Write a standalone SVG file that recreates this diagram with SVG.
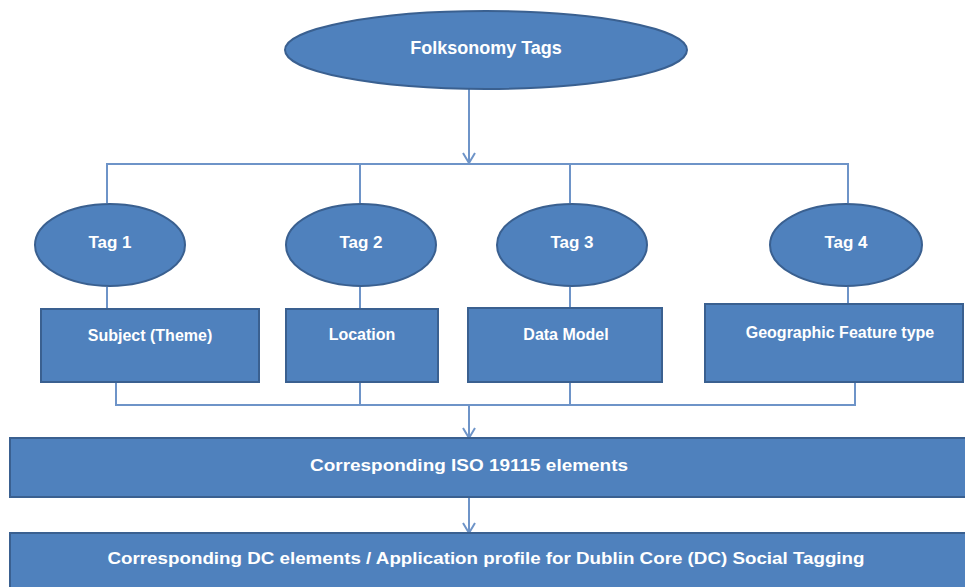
<svg xmlns="http://www.w3.org/2000/svg" width="965" height="587" viewBox="0 0 965 587">
<style>
.n{fill:#4F81BD;stroke:#3A6090;stroke-width:2}
.c{fill:none;stroke:#6E94C8;stroke-width:2}
.t{fill:#FFFFFF;font-family:"Liberation Sans",Arial,sans-serif;font-weight:bold;text-anchor:middle;dominant-baseline:central}
</style>
<defs>
<marker id="ah" markerWidth="14" markerHeight="14" refX="13" refY="7" orient="auto" markerUnits="userSpaceOnUse" viewBox="0 0 14 14">
<polyline points="3,1 13,7 3,13" fill="none" stroke="#6E94C8" stroke-width="2"/>
</marker>
</defs>
<rect width="965" height="587" fill="#FFFFFF"/>
<g id="connectors">
<line class="c" x1="469" y1="89" x2="469" y2="163" style="marker-end:url(#ah)"/>
<polyline class="c" points="107,203 107,164 848,164 848,203"/>
<line class="c" x1="360" y1="164" x2="360" y2="203"/>
<line class="c" x1="570" y1="164" x2="570" y2="203"/>
<line class="c" x1="107" y1="287" x2="107" y2="309"/>
<line class="c" x1="360" y1="287" x2="360" y2="309"/>
<line class="c" x1="570" y1="287" x2="570" y2="308"/>
<line class="c" x1="848" y1="287" x2="848" y2="304"/>
<polyline class="c" points="116,382 116,405 855,405 855,382"/>
<line class="c" x1="360" y1="382" x2="360" y2="405"/>
<line class="c" x1="570" y1="382" x2="570" y2="405"/>
<line class="c" x1="469" y1="405" x2="469" y2="438" style="marker-end:url(#ah)"/>
<line class="c" x1="469" y1="497" x2="469" y2="533" style="marker-end:url(#ah)"/>
</g>
<g id="folksonomy">
<ellipse class="n" cx="486" cy="50" rx="201" ry="39"/>
<text class="t" x="486" y="48" font-size="18">Folksonomy Tags</text>
</g>
<g id="tag1">
<ellipse class="n" cx="110" cy="245" rx="75" ry="41"/>
<text class="t" x="110" y="242" font-size="17">Tag 1</text>
</g>
<g id="tag2">
<ellipse class="n" cx="361" cy="245" rx="75" ry="41"/>
<text class="t" x="361" y="242" font-size="17">Tag 2</text>
</g>
<g id="tag3">
<ellipse class="n" cx="572" cy="245" rx="75" ry="41"/>
<text class="t" x="572" y="242" font-size="17">Tag 3</text>
</g>
<g id="tag4">
<ellipse class="n" cx="846" cy="245" rx="76" ry="41"/>
<text class="t" x="846" y="242" font-size="17">Tag 4</text>
</g>
<g id="subject">
<rect class="n" x="41" y="309" width="218" height="73"/>
<text class="t" x="150" y="335" font-size="16">Subject (Theme)</text>
</g>
<g id="location">
<rect class="n" x="286" y="309" width="152" height="73"/>
<text class="t" x="362" y="334" font-size="16">Location</text>
</g>
<g id="datamodel">
<rect class="n" x="468" y="308" width="194" height="74"/>
<text class="t" x="566" y="334" font-size="16">Data Model</text>
</g>
<g id="geofeature">
<rect class="n" x="705" y="304" width="258" height="78"/>
<text class="t" x="840" y="332" font-size="16">Geographic Feature type</text>
</g>
<g id="iso">
<rect class="n" x="10" y="438" width="960" height="59"/>
<text class="t" x="469" y="465" font-size="17" textLength="318" lengthAdjust="spacingAndGlyphs">Corresponding ISO 19115 elements</text>
</g>
<g id="dc">
<rect class="n" x="10" y="533" width="960" height="60"/>
<text class="t" x="486" y="558" font-size="17" textLength="757" lengthAdjust="spacingAndGlyphs">Corresponding DC elements / Application profile for Dublin Core (DC) Social Tagging</text>
</g>
</svg>
